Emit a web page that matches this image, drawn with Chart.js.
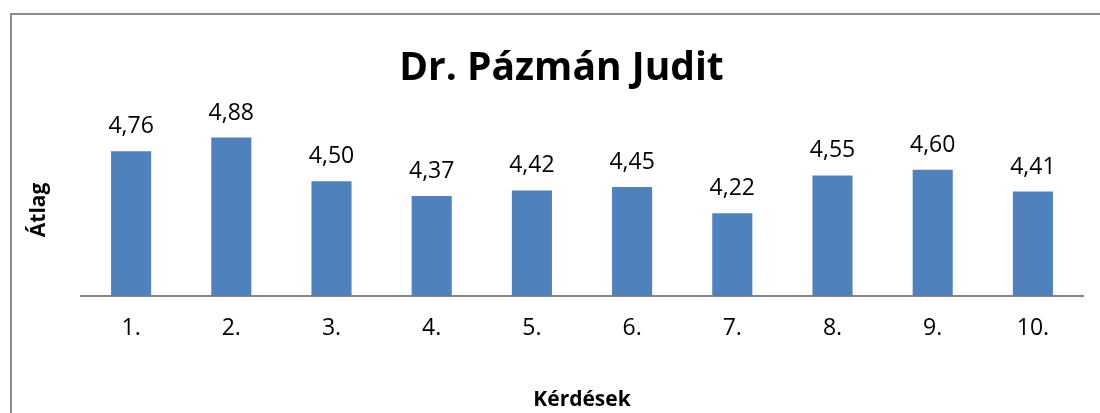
<!DOCTYPE html>
<html>
<head>
<meta charset="utf-8">
<script src="https://cdn.jsdelivr.net/npm/chart.js@4.4.0/dist/chart.umd.min.js"></script>
<style>
  html, body { margin: 0; padding: 0; background: #fff; }
  #wrap { position: relative; width: 1100px; height: 413px; overflow: hidden; }
  #frame {
    position: absolute; left: 10px; top: 13px; width: 1200px; height: 500px;
    border-top: 2px solid #8a8a8a; border-left: 2px solid #8a8a8a;
  }
  #myChart { position: absolute; left: 0; top: 0; }
</style>
</head>
<body>
<div id="wrap">
  <div id="frame"></div>
  <canvas id="myChart" width="1100" height="413"></canvas>
</div>
<script>
const chartTitle = 'Dr. Pázmán Judit';
const questions = ['1.', '2.', '3.', '4.', '5.', '6.', '7.', '8.', '9.', '10.'];
const averages = [4.76, 4.88, 4.50, 4.37, 4.42, 4.45, 4.22, 4.55, 4.60, 4.41];
const xTitle = 'Kérdések';
const yTitle = 'Átlag';

const FONT = '"Open Sans", "Noto Sans", sans-serif';

// value labels above the bars, comma as decimal separator
const valueLabels = {
  id: 'valueLabels',
  afterDatasetsDraw(chart) {
    const { ctx } = chart;
    const meta = chart.getDatasetMeta(0);
    ctx.save();
    ctx.font = '23px ' + FONT;
    ctx.fillStyle = '#000';
    ctx.textAlign = 'center';
    ctx.textBaseline = 'alphabetic';
    meta.data.forEach((bar, i) => {
      ctx.fillText(averages[i].toFixed(2).replace('.', ','), bar.x, bar.y - 18);
    });
    ctx.restore();
  }
};

new Chart(document.getElementById('myChart'), {
  type: 'bar',
  data: {
    labels: questions,
    datasets: [{
      data: averages,
      backgroundColor: '#4f81bd',
      borderWidth: 0,
      barPercentage: 0.4,
      categoryPercentage: 1
    }]
  },
  options: {
    responsive: false,
    animation: false,
    layout: { padding: { left: 40, right: 17, top: 0, bottom: 0 } },
    plugins: {
      legend: { display: false },
      tooltip: { enabled: false },
      title: {
        display: true,
        text: chartTitle,
        color: '#000',
        font: { family: FONT, size: 39, weight: 'bold' },
        padding: { top: 45, bottom: 32 }
      }
    },
    scales: {
      x: {
        grid: { display: false, drawTicks: false },
        border: { display: true, color: '#868686', width: 2 },
        ticks: { color: '#000', font: { family: FONT, size: 23 }, padding: 19 },
        title: {
          display: true, text: xTitle, color: '#000',
          font: { family: FONT, size: 21, weight: 'bold' },
          padding: { top: 0, bottom: 0 }
        },
        afterFit(scale) { scale.height = 117; }
      },
      y: {
        min: 3.5,
        max: 5,
        grid: { display: false, drawTicks: false },
        border: { display: false },
        ticks: { display: false },
        title: {
          display: true, text: yTitle, color: '#000',
          font: { family: FONT, size: 21, weight: 'bold' },
          padding: { top: -14, bottom: 0 }
        },
        afterFit(scale) { scale.width = 41; }
      }
    }
  },
  plugins: [valueLabels]
});
</script>
</body>
</html>
